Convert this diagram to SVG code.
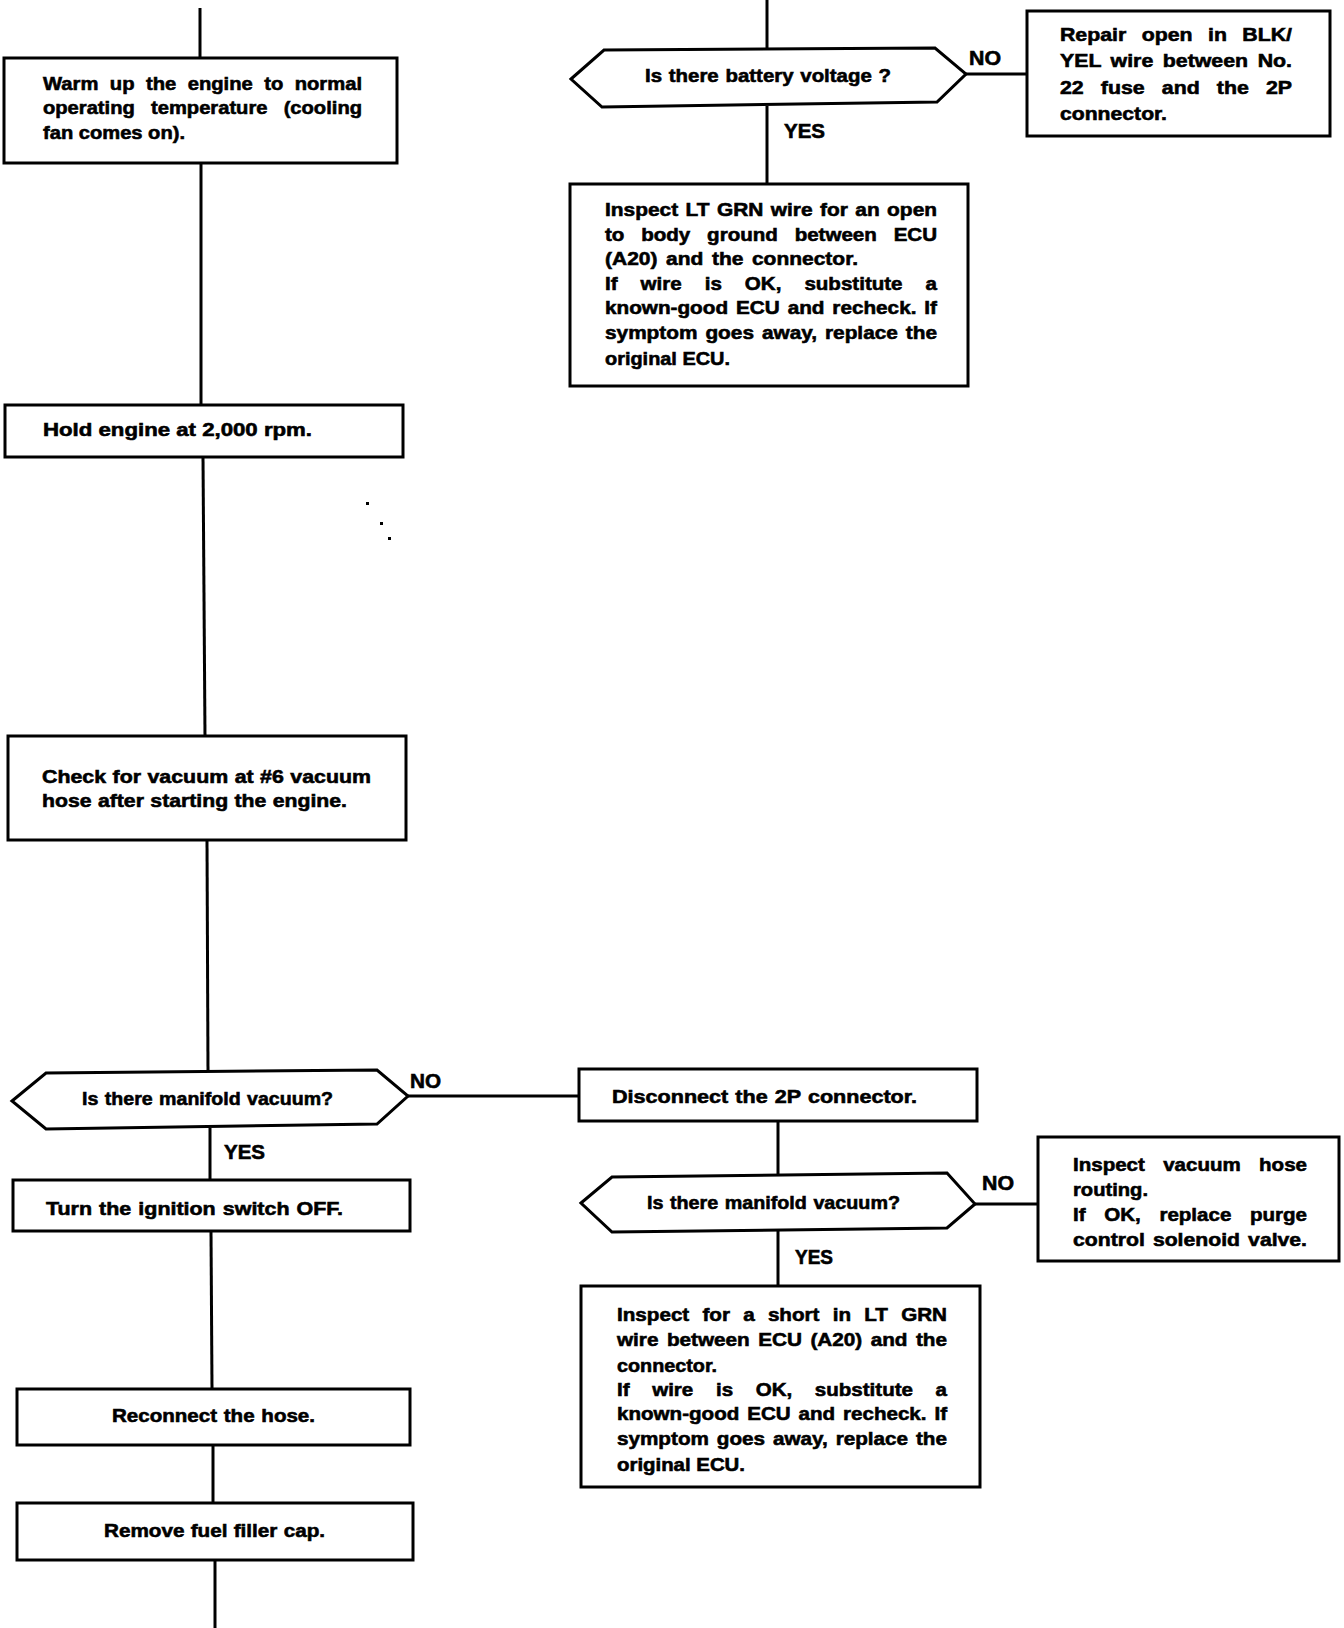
<svg xmlns="http://www.w3.org/2000/svg" width="1344" height="1628" viewBox="0 0 1344 1628">
<style>
.box{fill:#fff;stroke:#000;stroke-width:3}
.dec{fill:#fff;stroke:#000;stroke-width:3;stroke-linejoin:miter}
.ln{stroke:#000;stroke-width:3;fill:none}
text{font-family:"Liberation Sans",Arial,Helvetica,sans-serif;font-weight:bold;font-size:19px;fill:#000;stroke:#000;stroke-width:0.6}
.lbl{font-size:20px}
</style>
<rect width="1344" height="1628" fill="#fff"/>
<g id="connectors">
<line class="ln" x1="200" y1="8" x2="200" y2="58"/>
<line class="ln" x1="201" y1="163" x2="201" y2="405"/>
<line class="ln" x1="203" y1="457" x2="205" y2="736"/>
<line class="ln" x1="207" y1="840" x2="208" y2="1072"/>
<line class="ln" x1="210" y1="1128" x2="210" y2="1180"/>
<line class="ln" x1="211" y1="1231" x2="212" y2="1389"/>
<line class="ln" x1="213" y1="1445" x2="213" y2="1503"/>
<line class="ln" x1="215" y1="1560" x2="215" y2="1628"/>
<line class="ln" x1="767" y1="0" x2="767" y2="50"/>
<line class="ln" x1="767" y1="106" x2="767" y2="184"/>
<line class="ln" x1="966" y1="74" x2="1027" y2="74"/>
<line class="ln" x1="408" y1="1096" x2="579" y2="1096"/>
<line class="ln" x1="778" y1="1121" x2="778" y2="1176"/>
<line class="ln" x1="975" y1="1204" x2="1038" y2="1204"/>
<line class="ln" x1="778" y1="1231" x2="778" y2="1286"/>
<text class="lbl" x="969" y="65" textLength="32" lengthAdjust="spacingAndGlyphs">NO</text>
<text class="lbl" x="784" y="138" textLength="41" lengthAdjust="spacingAndGlyphs">YES</text>
<text class="lbl" x="410" y="1088" textLength="31" lengthAdjust="spacingAndGlyphs">NO</text>
<text class="lbl" x="224" y="1159" textLength="41" lengthAdjust="spacingAndGlyphs">YES</text>
<text class="lbl" x="982" y="1190" textLength="32" lengthAdjust="spacingAndGlyphs">NO</text>
<text class="lbl" x="795" y="1264" textLength="38" lengthAdjust="spacingAndGlyphs">YES</text>
</g>
<g id="specks">
<rect x="366" y="502" width="3" height="3" fill="#000"/>
<rect x="380" y="522" width="3" height="3" fill="#000"/>
<rect x="388" y="537" width="3" height="3" fill="#000"/>
</g>
<g id="warm-up">
<rect class="box" x="4" y="58" width="393" height="105"/>
<text x="43" y="90" textLength="319" lengthAdjust="spacingAndGlyphs" word-spacing="5.5">Warm up the engine to normal</text>
<text x="43" y="114" textLength="319" lengthAdjust="spacingAndGlyphs" word-spacing="10">operating temperature (cooling</text>
<text x="43" y="139" textLength="142" lengthAdjust="spacingAndGlyphs">fan comes on).</text>
</g>
<g id="hold-engine">
<rect class="box" x="5" y="405" width="398" height="52"/>
<text x="43" y="436" textLength="269" lengthAdjust="spacingAndGlyphs">Hold engine at 2,000 rpm.</text>
</g>
<g id="check-vacuum">
<rect class="box" x="8" y="736" width="398" height="104"/>
<text x="42" y="783" textLength="329" lengthAdjust="spacingAndGlyphs" word-spacing="0.5">Check for vacuum at #6 vacuum</text>
<text x="42" y="807" textLength="305" lengthAdjust="spacingAndGlyphs" word-spacing="0.5">hose after starting the engine.</text>
</g>
<g id="manifold-vacuum-1">
<polygon class="dec" points="12,1101 46,1073 377,1070 408,1096 377,1124 46,1129"/>
<text x="82" y="1105" textLength="251" lengthAdjust="spacingAndGlyphs" word-spacing="1">Is there manifold vacuum?</text>
</g>
<g id="ignition-off">
<rect class="box" x="13" y="1180" width="397" height="51"/>
<text x="46" y="1215" textLength="297" lengthAdjust="spacingAndGlyphs" word-spacing="1">Turn the ignition switch OFF.</text>
</g>
<g id="reconnect-hose">
<rect class="box" x="17" y="1389" width="393" height="56"/>
<text x="112" y="1422" textLength="203" lengthAdjust="spacingAndGlyphs" word-spacing="1">Reconnect the hose.</text>
</g>
<g id="remove-cap">
<rect class="box" x="17" y="1503" width="396" height="57"/>
<text x="104" y="1537" textLength="221" lengthAdjust="spacingAndGlyphs" word-spacing="0.5">Remove fuel filler cap.</text>
</g>
<g id="battery-voltage">
<polygon class="dec" points="571,79 604,50 935,48 966,74 937,102 602,107"/>
<text x="645" y="82" textLength="246" lengthAdjust="spacingAndGlyphs" word-spacing="1">Is there battery voltage ?</text>
</g>
<g id="repair-open">
<rect class="box" x="1027" y="11" width="303" height="125"/>
<text x="1060" y="41" textLength="232" lengthAdjust="spacingAndGlyphs" word-spacing="8.5">Repair open in BLK/</text>
<text x="1060" y="67" textLength="232" lengthAdjust="spacingAndGlyphs" word-spacing="3.2">YEL wire between No.</text>
<text x="1060" y="94" textLength="232" lengthAdjust="spacingAndGlyphs" word-spacing="10">22 fuse and the 2P</text>
<text x="1060" y="120" textLength="107" lengthAdjust="spacingAndGlyphs">connector.</text>
</g>
<g id="inspect-open">
<rect class="box" x="570" y="184" width="398" height="202"/>
<text x="605" y="216" textLength="332" lengthAdjust="spacingAndGlyphs" word-spacing="1.5">Inspect LT GRN wire for an open</text>
<text x="605" y="240.5" textLength="332" lengthAdjust="spacingAndGlyphs" word-spacing="10.3">to body ground between ECU</text>
<text x="605" y="265" textLength="253" lengthAdjust="spacingAndGlyphs" word-spacing="2.5">(A20) and the connector.</text>
<text x="605" y="289.5" textLength="332" lengthAdjust="spacingAndGlyphs" word-spacing="16">If wire is OK, substitute a</text>
<text x="605" y="314" textLength="332" lengthAdjust="spacingAndGlyphs" word-spacing="2">known-good ECU and recheck. If</text>
<text x="605" y="338.5" textLength="332" lengthAdjust="spacingAndGlyphs" word-spacing="2">symptom goes away, replace the</text>
<text x="605" y="365" textLength="125" lengthAdjust="spacingAndGlyphs">original ECU.</text>
</g>
<g id="disconnect-2p">
<rect class="box" x="579" y="1069" width="398" height="52"/>
<text x="612" y="1103" textLength="305" lengthAdjust="spacingAndGlyphs" word-spacing="1">Disconnect the 2P connector.</text>
</g>
<g id="manifold-vacuum-2">
<polygon class="dec" points="581,1203 612,1177 947,1173 975,1204 947,1228 612,1232"/>
<text x="647" y="1209" textLength="253" lengthAdjust="spacingAndGlyphs" word-spacing="1">Is there manifold vacuum?</text>
</g>
<g id="inspect-hose">
<rect class="box" x="1038" y="1137" width="301" height="124"/>
<text x="1073" y="1171" textLength="234" lengthAdjust="spacingAndGlyphs" word-spacing="11.7">Inspect vacuum hose</text>
<text x="1073" y="1196" textLength="75" lengthAdjust="spacingAndGlyphs">routing.</text>
<text x="1073" y="1221" textLength="234" lengthAdjust="spacingAndGlyphs" word-spacing="12">If OK, replace purge</text>
<text x="1073" y="1246" textLength="234" lengthAdjust="spacingAndGlyphs" word-spacing="2">control solenoid valve.</text>
</g>
<g id="inspect-short">
<rect class="box" x="581" y="1286" width="399" height="201"/>
<text x="617" y="1321" textLength="330" lengthAdjust="spacingAndGlyphs" word-spacing="6.9">Inspect for a short in LT GRN</text>
<text x="617" y="1346" textLength="330" lengthAdjust="spacingAndGlyphs" word-spacing="2.5">wire between ECU (A20) and the</text>
<text x="617" y="1372" textLength="100" lengthAdjust="spacingAndGlyphs">connector.</text>
<text x="617" y="1396" textLength="330" lengthAdjust="spacingAndGlyphs" word-spacing="15.7">If wire is OK, substitute a</text>
<text x="617" y="1420" textLength="330" lengthAdjust="spacingAndGlyphs" word-spacing="2">known-good ECU and recheck. If</text>
<text x="617" y="1445" textLength="330" lengthAdjust="spacingAndGlyphs" word-spacing="2">symptom goes away, replace the</text>
<text x="617" y="1471" textLength="128" lengthAdjust="spacingAndGlyphs">original ECU.</text>
</g>
</svg>
